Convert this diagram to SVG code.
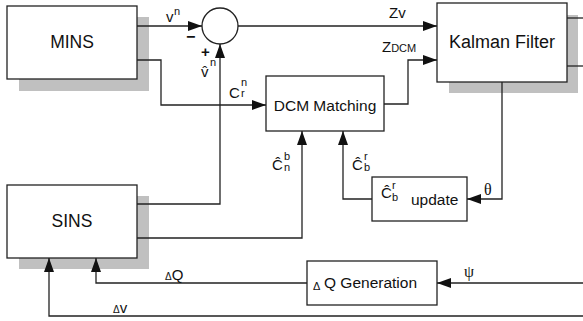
<svg xmlns="http://www.w3.org/2000/svg" width="583" height="321" viewBox="0 0 583 321">
<style>
.box{fill:#fff;stroke:#222;stroke-width:1.3}
.sh{fill:#c0c0c0;stroke:none}
.ln{fill:none;stroke:#222;stroke-width:1.3}
text{font-family:"Liberation Sans",Arial,sans-serif;fill:#111}
.big{font-size:17.5px}
.mid{font-size:15.5px}
.lab{font-size:15px}
.sup{font-size:11px}
.gr{font-family:"Liberation Serif","DejaVu Serif",serif;font-size:16px}
</style>
<defs>
<marker id="ar" viewBox="0 0 14 10" refX="14" refY="5" markerWidth="14" markerHeight="10" markerUnits="userSpaceOnUse" orient="auto">
<path d="M0,0 L14,5 L0,10 Z" fill="#111"/>
</marker>
</defs>
<g id="MINS">
<rect class="sh" x="19" y="17" width="130" height="74"/>
<rect class="box" x="7" y="6" width="130" height="73"/>
<text class="big" x="72" y="48" text-anchor="middle">MINS</text>
</g>
<g id="SINS">
<rect class="sh" x="19" y="196" width="130" height="73"/>
<rect class="box" x="7" y="185" width="130" height="73"/>
<text class="big" x="72" y="227" text-anchor="middle">SINS</text>
</g>
<g id="KalmanFilter">
<rect class="sh" x="449" y="15" width="129" height="78"/>
<rect class="box" x="437" y="3" width="130" height="79"/>
<text class="big" x="502" y="48" text-anchor="middle" style="font-size:18px">Kalman Filter</text>
</g>
<g id="Sum">
<circle class="box" cx="220" cy="26" r="18"/>
</g>
<g id="DCMMatching">
<rect class="box" x="266" y="76" width="118" height="55"/>
<text class="mid" x="325" y="111" text-anchor="middle">DCM Matching</text>
</g>
<g id="Update">
<rect class="box" x="372" y="177" width="95" height="44"/>
<text class="lab" x="381" y="198">Ĉ</text>
<text class="sup" x="392" y="189">r</text>
<text class="sup" x="392" y="201">b</text>
<text class="mid" x="411" y="205">update</text>
</g>
<g id="DQGeneration">
<rect class="box" x="307" y="261" width="130" height="44"/>
<text x="313" y="290" style="font-size:11px">Δ</text>
<text class="mid" x="324" y="288">Q Generation</text>
</g>
<g id="connectors">
<path class="ln" d="M137,26 H202" marker-end="url(#ar)"/>
<path class="ln" d="M137,204 H220 V44" marker-end="url(#ar)"/>
<path class="ln" d="M238,26 H437" marker-end="url(#ar)"/>
<path class="ln" d="M137,60 H161 V105 H266" marker-end="url(#ar)"/>
<path class="ln" d="M384,104 H408 V60 H437" marker-end="url(#ar)"/>
<path class="ln" d="M502,82 V199 H467" marker-end="url(#ar)"/>
<path class="ln" d="M372,199 H343 V131" marker-end="url(#ar)"/>
<path class="ln" d="M137,238 H302 V131" marker-end="url(#ar)"/>
<path class="ln" d="M583,283 H437" marker-end="url(#ar)"/>
<path class="ln" d="M307,283 H96 V258" marker-end="url(#ar)"/>
<path class="ln" d="M583,316 H49 V258" marker-end="url(#ar)"/>
<path class="ln" d="M567,18 H583"/>
<path class="ln" d="M567,66 H583"/>
</g>
<g id="labels">
<text class="lab" x="166" y="22">v</text>
<text class="sup" x="174" y="15">n</text>
<text x="186" y="42" style="font-size:16px;font-weight:bold">−</text>
<text x="201" y="57" style="font-size:15px;font-weight:bold">+</text>
<text class="lab" x="201" y="77">v̂</text>
<text class="sup" x="210" y="66">n</text>
<text class="lab" x="229" y="98">C</text>
<text class="sup" x="241" y="86">n</text>
<text class="sup" x="241" y="97">r</text>
<text class="lab" x="272" y="170">Ĉ</text>
<text class="sup" x="284" y="160">b</text>
<text class="sup" x="284" y="171">n</text>
<text class="lab" x="352" y="170">Ĉ</text>
<text class="sup" x="364" y="160">r</text>
<text class="sup" x="364" y="171">b</text>
<text class="lab" x="389" y="18">Zv</text>
<text class="lab" x="382" y="52">Z<tspan style="font-size:11px">DCM</tspan></text>
<text class="gr" x="484" y="195">θ</text>
<text class="gr" x="464" y="277">ψ</text>
<text x="165" y="280"><tspan style="font-size:10px">Δ</tspan><tspan class="lab">Q</tspan></text>
<text x="113" y="313"><tspan style="font-size:10px">Δ</tspan><tspan class="lab">v</tspan></text>
</g>
</svg>
